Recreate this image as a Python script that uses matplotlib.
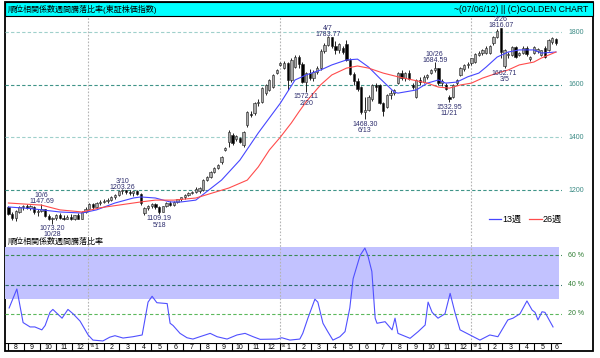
import numpy as np
import pandas as pd
import matplotlib
matplotlib.use('Agg')
import matplotlib.pyplot as plt
from matplotlib.patches import Rectangle
from matplotlib.lines import Line2D

plt.rcParams['font.family'] = ['Liberation Sans', 'Noto Sans CJK JP', 'DejaVu Sans']

# 週足データ (2004-08-02 の週から 150 週)
start = pd.Timestamp('2004-08-02')

open_ = [1136, 1108, 1095, 1118, 1135, 1140, 1132, 1136, 1115, 1120,
         1127, 1102, 1090, 1095, 1105, 1096, 1092, 1098, 1090, 1104,
         1092, 1118, 1130, 1147, 1136, 1150, 1156, 1160, 1164, 1172,
         1182, 1195, 1199, 1192, 1188, 1198, 1185, 1112, 1132, 1138,
         1148, 1135, 1118, 1138, 1152, 1142, 1155, 1165, 1172, 1182,
         1190, 1193, 1195, 1200, 1238, 1250, 1269, 1284, 1307, 1352,
         1383, 1409, 1394, 1398, 1371, 1447, 1490, 1493, 1530, 1534,
         1568, 1580, 1591, 1645, 1674, 1663, 1682, 1618, 1667, 1705,
         1680, 1610, 1645, 1625, 1650, 1662, 1728, 1752, 1780, 1748,
         1730, 1738, 1755, 1695, 1640, 1615, 1590, 1495, 1505, 1545,
         1598, 1598, 1530, 1515, 1560, 1568, 1608, 1644, 1625, 1645,
         1600, 1555, 1616, 1610, 1628, 1644, 1656, 1662, 1605, 1600,
         1555, 1552, 1605, 1638, 1658, 1674, 1682, 1688, 1714, 1720,
         1722, 1722, 1758, 1780, 1815, 1670, 1712, 1713, 1743, 1713,
         1720, 1740, 1698, 1720, 1728, 1713, 1740, 1732, 1762, 1773]
high = [1141, 1118, 1125, 1140, 1145, 1146, 1142, 1140, 1128, 1148,
        1130, 1110, 1098, 1110, 1112, 1105, 1105, 1108, 1106, 1112,
        1120, 1135, 1150, 1152, 1155, 1162, 1165, 1170, 1176, 1186,
        1198, 1203, 1202, 1200, 1198, 1202, 1190, 1136, 1142, 1152,
        1152, 1138, 1140, 1156, 1158, 1158, 1168, 1175, 1185, 1192,
        1196, 1210, 1213, 1242, 1255, 1272, 1288, 1298, 1330, 1362,
        1428, 1418, 1410, 1402, 1425, 1500, 1500, 1535, 1545, 1592,
        1603, 1622, 1640, 1660, 1688, 1690, 1686, 1700, 1712, 1712,
        1685, 1650, 1660, 1655, 1670, 1735, 1760, 1784, 1782, 1765,
        1760, 1745, 1770, 1700, 1650, 1625, 1595, 1555, 1560, 1602,
        1605, 1602, 1535, 1565, 1580, 1585, 1648, 1655, 1650, 1655,
        1605, 1620, 1630, 1635, 1640, 1660, 1685, 1665, 1620, 1605,
        1560, 1602, 1622, 1666, 1678, 1688, 1703, 1722, 1726, 1735,
        1745, 1752, 1783, 1812, 1816, 1735, 1725, 1748, 1748, 1725,
        1745, 1745, 1710, 1745, 1740, 1733, 1745, 1772, 1780, 1776]
low = [1104, 1088, 1082, 1112, 1126, 1128, 1125, 1110, 1100, 1115,
       1098, 1085, 1073, 1088, 1090, 1086, 1090, 1085, 1088, 1090,
       1090, 1112, 1128, 1130, 1132, 1145, 1150, 1152, 1158, 1168,
       1176, 1186, 1185, 1180, 1178, 1180, 1145, 1104, 1125, 1132,
       1130, 1109, 1115, 1135, 1138, 1140, 1152, 1160, 1168, 1178,
       1186, 1188, 1188, 1196, 1235, 1246, 1265, 1280, 1300, 1348,
       1364, 1372, 1388, 1380, 1365, 1440, 1478, 1485, 1520, 1530,
       1562, 1575, 1588, 1640, 1670, 1658, 1580, 1612, 1662, 1665,
       1605, 1572, 1618, 1615, 1640, 1655, 1720, 1745, 1740, 1718,
       1722, 1718, 1690, 1635, 1600, 1575, 1490, 1468, 1500, 1538,
       1575, 1525, 1480, 1510, 1545, 1560, 1602, 1618, 1615, 1618,
       1585, 1550, 1600, 1605, 1620, 1640, 1650, 1600, 1595, 1578,
       1533, 1548, 1600, 1632, 1652, 1665, 1675, 1682, 1710, 1712,
       1718, 1718, 1752, 1778, 1700, 1662, 1700, 1710, 1700, 1708,
       1715, 1710, 1690, 1715, 1720, 1708, 1700, 1728, 1755, 1750]
close = [1108, 1095, 1120, 1135, 1140, 1132, 1138, 1115, 1120, 1127,
         1102, 1090, 1095, 1105, 1096, 1092, 1098, 1090, 1104, 1092,
         1118, 1130, 1147, 1136, 1150, 1156, 1160, 1164, 1172, 1182,
         1195, 1199, 1192, 1188, 1195, 1185, 1150, 1132, 1138, 1148,
         1135, 1118, 1138, 1152, 1142, 1155, 1165, 1172, 1182, 1190,
         1194, 1206, 1208, 1238, 1250, 1269, 1284, 1295, 1326, 1360,
         1420, 1379, 1405, 1383, 1420, 1496, 1485, 1530, 1536, 1587,
         1599, 1618, 1637, 1656, 1682, 1682, 1618, 1694, 1705, 1680,
         1610, 1645, 1625, 1650, 1662, 1728, 1752, 1780, 1748, 1730,
         1755, 1725, 1695, 1640, 1615, 1585, 1495, 1505, 1552, 1598,
         1590, 1530, 1500, 1560, 1568, 1578, 1644, 1625, 1645, 1622,
         1590, 1616, 1610, 1630, 1636, 1656, 1662, 1605, 1615, 1582,
         1545, 1598, 1618, 1662, 1674, 1680, 1700, 1718, 1722, 1730,
         1740, 1748, 1780, 1805, 1725, 1730, 1718, 1743, 1706, 1720,
         1740, 1715, 1704, 1742, 1735, 1730, 1706, 1770, 1776, 1760]

# 移動平均 (チャートから読み取り)
ma13_week = [0, 6, 14, 20, 24, 29, 34, 36, 40, 44, 47, 51, 58, 63, 68, 74, 78, 81, 85,
             88, 92, 95, 98, 101, 105, 106, 111, 114, 117, 119, 122, 125, 128, 130, 133, 136,
             139, 143, 145, 149]
ma13 = [1136, 1130, 1117, 1113, 1125, 1151, 1170, 1174, 1170, 1155, 1155, 1162, 1238, 1314,
        1417, 1530, 1618, 1637, 1656, 1675, 1694, 1697, 1667, 1625, 1572, 1568,
        1580, 1606, 1618, 1606, 1610, 1630, 1644, 1667, 1705, 1724, 1732, 1732, 1720, 1724]
ma26_week = [0, 9, 14, 20, 25, 30, 36, 40, 45, 51, 60, 65, 68, 71, 74, 77, 79, 81, 85, 88,
             92, 95, 98, 102, 106, 110, 114, 117, 120, 123, 126, 129, 133, 136, 139, 143, 145,
             149]
ma26 = [1151, 1143, 1125, 1117, 1133, 1143, 1155, 1162, 1162, 1170, 1208, 1238, 1288, 1352,
        1401, 1455, 1496, 1535, 1600, 1637, 1663, 1671, 1663, 1644, 1630, 1618, 1606, 1591,
        1587, 1599, 1606, 1625, 1644, 1656, 1675, 1686, 1701, 1724]

# 騰落比率 (%)
ratio_week = [0.2, 2.3, 4, 5.9, 7.2, 9.1, 10, 11.3, 12.1, 14.6, 16.2, 17.6, 19.5, 21.7, 23,
              25.7, 27.6, 29, 31.2, 33.9, 36.4, 38, 39.1, 40.4, 43.2, 44, 44.8, 46.7, 48.6,
              50.2, 52.1, 54.9, 56.8, 59.5, 62.2, 64.4, 66.6, 68.5, 73.1, 74.4, 76.6, 79.3,
              80.1, 81.5, 83.4, 84.2, 85.6, 86.9, 88.3, 90.2, 91.6, 92.9, 93.8, 95.7, 97,
              97.8, 98.9, 99.8, 100.3, 102.5, 104.4, 105.2, 106, 109.3, 111.5, 113.4, 114.2,
              115.3, 116.9, 118.8, 120.2, 121.5, 122.9, 125.6, 128.3, 131, 133.2, 135.9,
              137.3, 139.2, 141.1, 142.5, 143.3, 144.1, 145.2, 146, 148.2]
ratio_pct = [24, 37, 14, 11, 11, 9, 12, 21, 23, 17, 23, 20, 15, 5.5, 2, 1.4, 4, 5, 3.4, 4.3,
             5.5, 28, 32, 27.6, 27, 13.5, 12, 6.6, 3.6, 2.7, 4.3, 6.6, 4.3, 2.7, 5.5, 6.6,
             4.3, 2.5, 2.7, 3.6, 2, 2.7, 6.6, 17, 30, 28, 13.5, 7.8, 2, 4.3, 7.8, 24, 44,
             60, 65, 60, 49, 17, 13.5, 14.6, 9, 17, 6.6, 3.2, 7.8, 12.3, 28, 21, 17, 20, 34,
             21, 9, 5.5, 2, 5.5, 4.3, 15.8, 17, 20, 28.8, 22.6, 21, 15.8, 21.4, 21, 11]

# 高値・安値の注記
note_week = [9, 12, 31, 41, 87, 81, 97, 116, 120, 134, 135]
note_value = ['1147.69', '1073.20', '1203.26', '1109.19', '1783.77', '1572.11', '1468.30',
              '1684.59', '1532.95', '1816.07', '1662.71']
note_date = ['10/6', '10/28', '3/10', '5/18', '4/7', '2/20', '6/13', '10/26', '11/21', '2/26', '3/5']
note_is_high = [True, False, True, False, True, False, False, True, False, True, False]

price_ticks = [1200, 1400, 1600, 1800]
pct_ticks = [20, 40, 60]

o = np.array(open_, float)
h = np.array(high, float)
l = np.array(low, float)
c = np.array(close, float)
weeks = np.arange(len(c))


def wk(ts):
    return (pd.Timestamp(ts) - start).days / 7


W, H = 600, 358
fig = plt.figure(figsize=(6, 3.58), dpi=100)


def box(x0, y0, x1, y1):
    return [x0 / W, 1 - y1 / H, (x1 - x0) / W, (y1 - y0) / H]


xlim = ((5 - 8.4) / 3.675, (562 - 8.4) / 3.675)

# 外枠とタイトルバー (軸より下に描く)
fig.patches.append(Rectangle((5 / W, 1 - 351 / H), 588 / W, 349 / H, transform=fig.transFigure,
                             fill=False, edgecolor='black', linewidth=1.3, zorder=-2))
fig.patches.append(Rectangle((5 / W, 1 - 16 / H), 588 / W, 14 / H, transform=fig.transFigure,
                             facecolor='#00ffff', edgecolor='black', linewidth=0.8, zorder=-1))
fig.text(8 / W, 1 - 9.5 / H, '順位相関係数週間騰落比率(東証株価指数)', fontsize=5.8,
         va='center', ha='left')
fig.text(588 / W, 1 - 9.5 / H, '~(07/06/12) || (C)GOLDEN CHART', fontsize=6.2,
         va='center', ha='right')

years = [wk('2005-01-01'), wk('2006-01-01'), wk('2007-01-01')]

# ---- 上段: ローソク足 ----
ax = fig.add_axes(box(5, 16, 562, 236))
ax.set_xlim(*xlim)
ax.set_ylim(1800 - (236 - 32) * 200 / 52.7, 1800 + (32 - 16) * 200 / 52.7)
ax.axis('off')
ax.patch.set_visible(False)

grid_col = {1200: '#3f9488', 1400: '#9fd0cb', 1600: '#3f9488', 1800: '#9fd0cb'}
for v in price_ticks:
    ax.axhline(v, color=grid_col[v], lw=0.8, dashes=(3, 2))
    ax.text(1.025, v, str(v), transform=ax.get_yaxis_transform(), fontsize=5,
            color='#3a8a84', ha='center', va='center', clip_on=False)
for yx in years:
    ax.axvline(yx, color='#b4b4b4', lw=0.8, ls=(0, (1.5, 1.5)))

ax.vlines(weeks, l, h, color='black', lw=0.6, zorder=3)
up = c >= o
body = np.maximum(np.abs(c - o), 2)
ax.bar(weeks, body, bottom=np.minimum(o, c), width=0.62,
       color=np.where(up, '#aaaaaa', 'black'), edgecolor='#202020', linewidth=0.4, zorder=4)

ax.plot(ma13_week, ma13, color='#4646ff', lw=0.8, zorder=5)
ax.plot(ma26_week, ma26, color='#ff4c4c', lw=0.8, zorder=5)

for wi, val, dt, top in zip(note_week, note_value, note_date, note_is_high):
    if top:
        ax.annotate(dt + '\n' + val, (wi, h[wi]), xytext=(0, -1.2), textcoords='offset points',
                    ha='center', va='bottom', fontsize=5, color='#2e2e6e', linespacing=0.85,
                    zorder=6)
    else:
        ax.annotate(val + '\n' + dt, (wi, l[wi]), xytext=(0, -1), textcoords='offset points',
                    ha='center', va='top', fontsize=5, color='#2e2e6e', linespacing=0.85,
                    zorder=6)

handles = [Line2D([], [], color='#4646ff', lw=0.9), Line2D([], [], color='#ff4c4c', lw=0.9)]
ax.legend(handles, ['13週', '26週'], loc='center left', bbox_to_anchor=(0.862, 0.075),
          ncol=2, frameon=False, fontsize=6.5, handlelength=1.4, handletextpad=0.1,
          columnspacing=0.9, borderaxespad=0)

# ---- 下段: 騰落比率 ----
ax2 = fig.add_axes(box(5, 237, 562, 343))
ax2.set_xlim(*xlim)
ax2.set_ylim(0, (343 - 237) * 20 / 29.2)
ax2.axis('off')
ax2.patch.set_visible(False)
ax2.axhspan(30, 66, xmin=0, xmax=(559 - 5) / 557, color='#c2c2ff', lw=0)
pct_col = {20: '#5cb85c', 40: '#2f6f6a', 60: '#3b8a55'}
for v in pct_ticks:
    ax2.axhline(v, color=pct_col[v], lw=0.8, dashes=(3, 2))
    ax2.text(1.025, v, '%d %%' % v, transform=ax2.get_yaxis_transform(), fontsize=5,
             color='#2e7d32', ha='center', va='center', clip_on=False)
for yx in years:
    ax2.axvline(yx, color='#b4b4b4', lw=0.8, ls=(0, (1.5, 1.5)))
ax2.plot(ratio_week, ratio_pct, color='#5050ff', lw=0.8)
ax2.text(3 / 557, 1 - 4.5 / 106, '順位相関係数週間騰落比率', transform=ax2.transAxes,
         fontsize=5.8, va='center', ha='left')

# ---- 月目盛り ----
ax3 = fig.add_axes(box(5, 343, 562, 351))
ax3.set_xlim(*xlim)
ax3.set_ylim(0, 1)
ax3.axis('off')
ax3.axhline(1, color='black', lw=0.8)
ax3.axhline(0, color='black', lw=0.8)
months = pd.date_range('2004-08-01', '2007-07-01', freq='MS')
for m0, m1 in zip(months[:-1], months[1:]):
    a, b = wk(m0), min(wk(m1), xlim[1])
    ax3.axvline(a, color='black', lw=0.8)
    ax3.text((max(a, xlim[0]) + b) / 2, 0.45, str(m0.month), fontsize=5, ha='center',
             va='center')
    if m0.month == 1:
        ax3.text(a + 0.3, 0.9, "'%02d" % (m0.year % 100), fontsize=3, ha='left', va='top')

fig.savefig('out.png', dpi=100)
